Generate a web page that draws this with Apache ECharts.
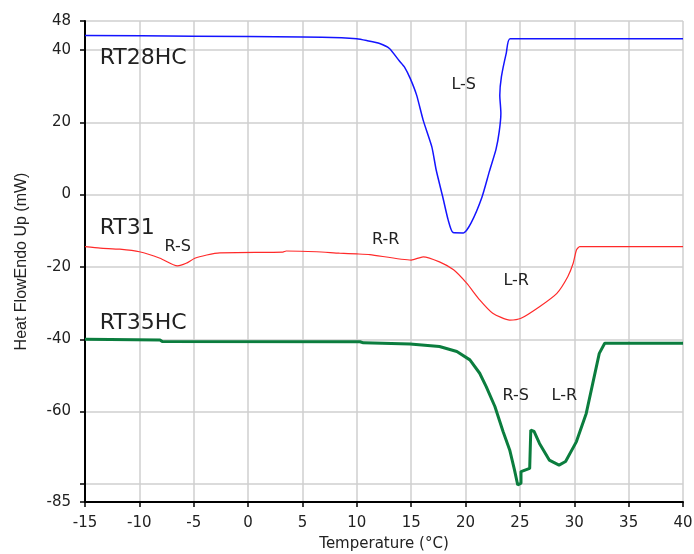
<!DOCTYPE html>
<html>
<head>
<meta charset="utf-8">
<script src="https://cdn.jsdelivr.net/npm/echarts@6/dist/echarts.min.js"></script>
<style>
html,body{margin:0;padding:0;background:#fff;}
#c{width:694px;height:554px;}
</style>
</head>
<body>
<div id="c"></div>
<script>
// RT28HC (blue)
const rt28Temp = [-15,-5,5,8.6,10,10.9,12.1,13.0,13.9,14.4,14.9,15.5,16.1,16.9,17.3,17.9,18.4,18.85,19.8,20.5,21.5,22.2,22.8,23.1,23.25,23.15,23.3,23.75,24.1,40];
const rt28Flow = [44.0,43.8,43.6,43.4,43.1,42.6,41.8,40.4,37.0,35.2,32.2,27.5,20.6,13.2,6.8,-0.6,-7.0,-10.5,-10.6,-7.9,-0.8,6.5,12.5,17.5,22.5,27.5,32.6,39.2,43.1,43.1];
// RT31 (red)
const rt31Temp = [-15,-13.6,-11.8,-10,-8.1,-6.5,-5.7,-4.9,-3.8,-2.6,3.2,3.5,6.3,8.4,10,11.2,15.0,16.1,17.6,18.9,20.1,21.3,22.5,24.06,25.1,26.8,28.4,29.4,29.9,30.2,30.5,40];
const rt31Flow = [-14.4,-14.8,-15.1,-15.8,-17.6,-19.7,-19.0,-17.6,-16.7,-16.1,-15.9,-15.6,-15.8,-16.2,-16.4,-16.6,-18.1,-17.2,-18.6,-20.8,-24.5,-29.1,-32.8,-34.7,-34.2,-31.0,-27.3,-22.7,-19.0,-15.3,-14.4,-14.4];
// RT35HC (green)
const rt35Temp = [-15,-8.1,-7.9,10.3,10.6,14.9,17.6,19.2,20.4,21.3,21.9,22.7,23.45,24.06,24.5,24.8,25.1,25.1,25.9,26.0,26.3,26.8,27.7,28.6,29.2,30.2,31.1,31.7,32.3,32.8,40];
const rt35Flow = [-40.0,-40.2,-40.6,-40.7,-41.0,-41.3,-42.0,-43.4,-45.7,-49.4,-53.1,-58.6,-65.5,-70.6,-76.1,-80.3,-79.8,-76.6,-75.7,-65.1,-65.5,-68.8,-73.4,-74.8,-73.8,-68.3,-60.5,-52.2,-43.9,-41.1,-41.1];

// axis ticks
const yTickValues = [-85,-80,-60,-40,-20,0,20,40,48];
const yLabelValues = [-85,-60,-40,-20,0,20,40,48];

// annotations (text, temperature, heat flow)
const bigLabels = ['RT28HC','RT31','RT35HC'];
const bigLabelX = [-13.65,-13.65,-13.65];
const bigLabelY = [37.6,-9.2,-35.6];
const smallLabels = ['L-S','R-S','R-R','L-R','R-S','L-R'];
const smallLabelX = [19.83,-6.47,12.66,24.66,24.61,29.09];
const smallLabelY = [30.3,-14.35,-12.55,-23.75,-55.7,-55.7];

function zip(a,b){return a.map((v,i)=>[v,b[i]]);}

const chart = echarts.init(document.getElementById('c'), null, {renderer:'canvas'});
const axisFont = {fontFamily:'DejaVu Sans', fontSize:15, color:'#222'};
chart.setOption({
  animation:false,
  backgroundColor:'#fff',
  grid:{left:85,right:11,top:21,bottom:52,containLabel:false,outerBoundsMode:'none'},
  xAxis:{
    type:'value',min:-15,max:40,interval:5,
    name:'Temperature (°C)',nameLocation:'middle',nameGap:35,
    nameTextStyle:{fontFamily:'DejaVu Sans',fontSize:15,color:'#222'},
    axisLine:{onZero:false,lineStyle:{color:'#000',width:2}},
    axisTick:{show:true,length:5,inside:false,lineStyle:{color:'#000',width:1.5}},
    axisLabel:Object.assign({margin:14},axisFont),
    splitLine:{show:true,lineStyle:{color:'#cfcfcf',width:1.5}}
  },
  yAxis:{
    type:'value',min:-85,max:48,
    name:'Heat FlowEndo Up (mW)',nameLocation:'middle',nameGap:55,nameRotate:90,
    nameTextStyle:{fontFamily:'Liberation Sans',fontSize:16,color:'#222'},
    axisLine:{show:true,onZero:false,lineStyle:{color:'#000',width:2}},
    axisTick:{show:true,length:5,customValues:yTickValues,lineStyle:{color:'#000',width:1.5}},
    axisLabel:Object.assign({margin:14,customValues:yLabelValues},axisFont),
    splitLine:{show:true,lineStyle:{color:'#cfcfcf',width:1.5}}
  },
  series:[
    {type:'line',name:'RT28HC',data:zip(rt28Temp,rt28Flow),showSymbol:false,symbol:'none',smooth:0.2,
     lineStyle:{color:'#1414ff',width:1.5},z:3},
    {type:'line',name:'RT31',data:zip(rt31Temp,rt31Flow),showSymbol:false,symbol:'none',smooth:0.2,
     lineStyle:{color:'#ff2a2a',width:1.2},z:3},
    {type:'line',name:'RT35HC',data:zip(rt35Temp,rt35Flow),showSymbol:false,symbol:'none',
     lineStyle:{color:'#0b7d3e',width:3},z:3}
  ]
});

const g = [];
bigLabels.forEach((t,i)=>{
  const p = chart.convertToPixel({gridIndex:0},[bigLabelX[i],bigLabelY[i]]);
  g.push({type:'text',x:p[0],y:p[1],z:10,style:{text:t,fontFamily:'DejaVu Sans',fontSize:22,fill:'#222',align:'left',verticalAlign:'middle'}});
});
smallLabels.forEach((t,i)=>{
  const p = chart.convertToPixel({gridIndex:0},[smallLabelX[i],smallLabelY[i]]);
  g.push({type:'text',x:p[0],y:p[1],z:10,style:{text:t,fontFamily:'DejaVu Sans',fontSize:16,fill:'#222',align:'center',verticalAlign:'middle'}});
});
chart.setOption({graphic:g});
</script>
</body>
</html>
